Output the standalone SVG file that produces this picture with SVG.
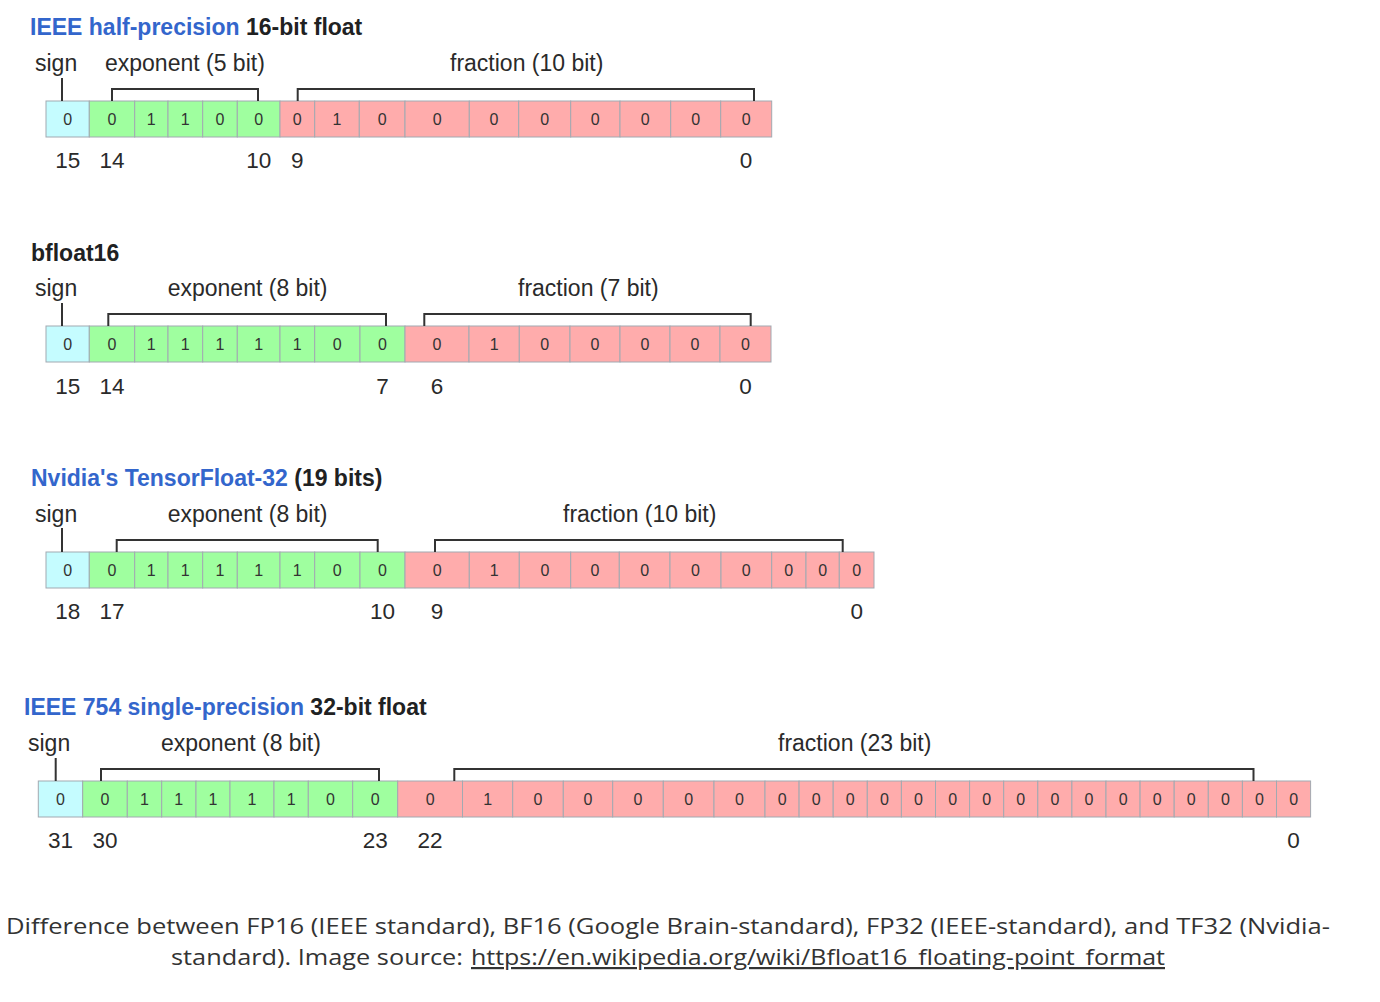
<svg xmlns="http://www.w3.org/2000/svg" width="1380" height="1002" viewBox="0 0 1380 1002">
<style>
rect.c{stroke:#a2a9b1;stroke-width:1}
.s{fill:#c5fcff}.e{fill:#9fff9f}.f{fill:#ffacac}
text{font-family:"Liberation Sans",Arial,sans-serif}
.v{font-size:16px;fill:#333;text-anchor:middle}
.lb{font-size:23px;fill:#2a2a2a}
.ix{font-size:22.5px;fill:#2a2a2a;text-anchor:middle}
.t{font-size:23px;font-weight:bold;fill:#202122}
.bl{fill:#3366cc}
.br{fill:none;stroke:#333;stroke-width:2}
.cap{font-family:"Open Sans","Liberation Sans",sans-serif;font-size:22px;fill:#333}
</style>
<rect width="1380" height="1002" fill="#fff"/>

<g id="fp16">
<text class="t" x="30" y="35"><tspan class="bl">IEEE half-precision</tspan> 16-bit float</text>
<text class="lb" x="35" y="71">sign</text>
<text class="lb" x="105" y="71">exponent (5 bit)</text>
<text class="lb" x="450" y="71">fraction (10 bit)</text>
<rect class="c s" x="46" y="101" width="43.3" height="36"/>
<rect class="c e" x="89.3" y="101" width="45.4" height="36"/>
<rect class="c e" x="134.7" y="101" width="33.3" height="36"/>
<rect class="c e" x="168" y="101" width="34.7" height="36"/>
<rect class="c e" x="202.7" y="101" width="34.6" height="36"/>
<rect class="c e" x="237.3" y="101" width="42.7" height="36"/>
<rect class="c f" x="280" y="101" width="34.7" height="36"/>
<rect class="c f" x="314.7" y="101" width="44.6" height="36"/>
<rect class="c f" x="359.3" y="101" width="45.7" height="36"/>
<rect class="c f" x="405" y="101" width="64.3" height="36"/>
<rect class="c f" x="469.3" y="101" width="49.4" height="36"/>
<rect class="c f" x="518.7" y="101" width="52" height="36"/>
<rect class="c f" x="570.7" y="101" width="49.3" height="36"/>
<rect class="c f" x="620" y="101" width="50.7" height="36"/>
<rect class="c f" x="670.7" y="101" width="50" height="36"/>
<rect class="c f" x="720.7" y="101" width="51" height="36"/>
<text class="v" y="125"><tspan x="67.7">0</tspan><tspan x="112">0</tspan><tspan x="151.3">1</tspan><tspan x="185.3">1</tspan><tspan x="220">0</tspan><tspan x="258.7">0</tspan><tspan x="297.3">0</tspan><tspan x="337">1</tspan><tspan x="382.2">0</tspan><tspan x="437.2">0</tspan><tspan x="494">0</tspan><tspan x="544.7">0</tspan><tspan x="595.3">0</tspan><tspan x="645.3">0</tspan><tspan x="695.7">0</tspan><tspan x="746.2">0</tspan></text>
<text class="ix" y="168"><tspan x="67.7">15</tspan><tspan x="112">14</tspan><tspan x="258.7">10</tspan><tspan x="297.3">9</tspan><tspan x="746">0</tspan></text>
</g>

<g id="bf16">
<text class="t" x="31" y="261">bfloat16</text>
<text class="lb" x="35" y="296">sign</text>
<text class="lb" x="167.7" y="296">exponent (8 bit)</text>
<text class="lb" x="518" y="296">fraction (7 bit)</text>
<rect class="c s" x="46" y="326" width="43.3" height="36"/>
<rect class="c e" x="89.3" y="326" width="45.4" height="36"/>
<rect class="c e" x="134.7" y="326" width="33.3" height="36"/>
<rect class="c e" x="168" y="326" width="34.7" height="36"/>
<rect class="c e" x="202.7" y="326" width="34.6" height="36"/>
<rect class="c e" x="237.3" y="326" width="42.7" height="36"/>
<rect class="c e" x="280" y="326" width="34.7" height="36"/>
<rect class="c e" x="314.7" y="326" width="45.3" height="36"/>
<rect class="c e" x="360" y="326" width="45" height="36"/>
<rect class="c f" x="405" y="326" width="64" height="36"/>
<rect class="c f" x="469" y="326" width="50.3" height="36"/>
<rect class="c f" x="519.3" y="326" width="50.7" height="36"/>
<rect class="c f" x="570" y="326" width="50" height="36"/>
<rect class="c f" x="620" y="326" width="50" height="36"/>
<rect class="c f" x="670" y="326" width="50" height="36"/>
<rect class="c f" x="720" y="326" width="51" height="36"/>
<text class="v" y="350"><tspan x="67.7">0</tspan><tspan x="112">0</tspan><tspan x="151.3">1</tspan><tspan x="185.3">1</tspan><tspan x="220">1</tspan><tspan x="258.7">1</tspan><tspan x="297.3">1</tspan><tspan x="337.3">0</tspan><tspan x="382.5">0</tspan><tspan x="437">0</tspan><tspan x="494.2">1</tspan><tspan x="544.7">0</tspan><tspan x="595">0</tspan><tspan x="645">0</tspan><tspan x="695">0</tspan><tspan x="745.5">0</tspan></text>
<text class="ix" y="394"><tspan x="67.7">15</tspan><tspan x="112">14</tspan><tspan x="382.5">7</tspan><tspan x="437">6</tspan><tspan x="745.5">0</tspan></text>
</g>

<g id="tf32">
<text class="t" x="31" y="486"><tspan class="bl">Nvidia's TensorFloat-32</tspan> (19 bits)</text>
<text class="lb" x="35" y="522">sign</text>
<text class="lb" x="167.7" y="522">exponent (8 bit)</text>
<text class="lb" x="563" y="522">fraction (10 bit)</text>
<rect class="c s" x="46" y="552" width="43.3" height="36"/>
<rect class="c e" x="89.3" y="552" width="45.4" height="36"/>
<rect class="c e" x="134.7" y="552" width="33.3" height="36"/>
<rect class="c e" x="168" y="552" width="34.7" height="36"/>
<rect class="c e" x="202.7" y="552" width="34.6" height="36"/>
<rect class="c e" x="237.3" y="552" width="42.7" height="36"/>
<rect class="c e" x="280" y="552" width="34.7" height="36"/>
<rect class="c e" x="314.7" y="552" width="45.3" height="36"/>
<rect class="c e" x="360" y="552" width="45" height="36"/>
<rect class="c f" x="405" y="552" width="64.3" height="36"/>
<rect class="c f" x="469.3" y="552" width="50" height="36"/>
<rect class="c f" x="519.3" y="552" width="51.4" height="36"/>
<rect class="c f" x="570.7" y="552" width="48.6" height="36"/>
<rect class="c f" x="619.3" y="552" width="50.7" height="36"/>
<rect class="c f" x="670" y="552" width="51" height="36"/>
<rect class="c f" x="721" y="552" width="50.7" height="36"/>
<rect class="c f" x="771.7" y="552" width="34.3" height="36"/>
<rect class="c f" x="806" y="552" width="33.3" height="36"/>
<rect class="c f" x="839.3" y="552" width="34.7" height="36"/>
<text class="v" y="576"><tspan x="67.7">0</tspan><tspan x="112">0</tspan><tspan x="151.3">1</tspan><tspan x="185.3">1</tspan><tspan x="220">1</tspan><tspan x="258.7">1</tspan><tspan x="297.3">1</tspan><tspan x="337.3">0</tspan><tspan x="382.5">0</tspan><tspan x="437.2">0</tspan><tspan x="494.3">1</tspan><tspan x="545">0</tspan><tspan x="595">0</tspan><tspan x="644.7">0</tspan><tspan x="695.5">0</tspan><tspan x="746.3">0</tspan><tspan x="788.8">0</tspan><tspan x="822.7">0</tspan><tspan x="856.7">0</tspan></text>
<text class="ix" y="619"><tspan x="67.7">18</tspan><tspan x="112">17</tspan><tspan x="382.5">10</tspan><tspan x="437">9</tspan><tspan x="856.7">0</tspan></text>
</g>

<g id="fp32">
<text class="t" x="24" y="715"><tspan class="bl">IEEE 754 single-precision</tspan> 32-bit float</text>
<text class="lb" x="28" y="751">sign</text>
<text class="lb" x="161" y="751">exponent (8 bit)</text>
<text class="lb" x="778" y="751">fraction (23 bit)</text>
<rect class="c s" x="38.3" y="781" width="44.4" height="36"/>
<rect class="c e" x="82.7" y="781" width="44.6" height="36"/>
<rect class="c e" x="127.3" y="781" width="34.4" height="36"/>
<rect class="c e" x="161.7" y="781" width="34.3" height="36"/>
<rect class="c e" x="196" y="781" width="34" height="36"/>
<rect class="c e" x="230" y="781" width="44" height="36"/>
<rect class="c e" x="274" y="781" width="34.3" height="36"/>
<rect class="c e" x="308.3" y="781" width="44.4" height="36"/>
<rect class="c e" x="352.7" y="781" width="45" height="36"/>
<rect class="c f" x="397.7" y="781" width="64.8" height="36"/>
<rect class="c f" x="462.5" y="781" width="50.2" height="36"/>
<rect class="c f" x="512.7" y="781" width="50.6" height="36"/>
<rect class="c f" x="563.3" y="781" width="49.4" height="36"/>
<rect class="c f" x="612.7" y="781" width="50.6" height="36"/>
<rect class="c f" x="663.3" y="781" width="50.7" height="36"/>
<rect class="c f" x="714" y="781" width="51" height="36"/>
<rect class="c f" x="765" y="781" width="34.1" height="36"/>
<rect class="c f" x="799.1" y="781" width="34.1" height="36"/>
<rect class="c f" x="833.2" y="781" width="34.1" height="36"/>
<rect class="c f" x="867.3" y="781" width="34.1" height="36"/>
<rect class="c f" x="901.4" y="781" width="34.1" height="36"/>
<rect class="c f" x="935.5" y="781" width="34.1" height="36"/>
<rect class="c f" x="969.6" y="781" width="34.1" height="36"/>
<rect class="c f" x="1003.7" y="781" width="34.1" height="36"/>
<rect class="c f" x="1037.8" y="781" width="34.1" height="36"/>
<rect class="c f" x="1071.9" y="781" width="34.1" height="36"/>
<rect class="c f" x="1106" y="781" width="34.1" height="36"/>
<rect class="c f" x="1140.1" y="781" width="34.1" height="36"/>
<rect class="c f" x="1174.2" y="781" width="34.1" height="36"/>
<rect class="c f" x="1208.3" y="781" width="34.1" height="36"/>
<rect class="c f" x="1242.4" y="781" width="34.1" height="36"/>
<rect class="c f" x="1276.5" y="781" width="34.1" height="36"/>
<text class="v" y="805"><tspan x="60.5">0</tspan><tspan x="105">0</tspan><tspan x="144.5">1</tspan><tspan x="178.8">1</tspan><tspan x="213">1</tspan><tspan x="252">1</tspan><tspan x="291.2">1</tspan><tspan x="330.5">0</tspan><tspan x="375.2">0</tspan><tspan x="430.1">0</tspan><tspan x="487.6">1</tspan><tspan x="538">0</tspan><tspan x="588">0</tspan><tspan x="638">0</tspan><tspan x="688.7">0</tspan><tspan x="739.5">0</tspan><tspan x="782.1">0</tspan><tspan x="816.2">0</tspan><tspan x="850.3">0</tspan><tspan x="884.4">0</tspan><tspan x="918.5">0</tspan><tspan x="952.6">0</tspan><tspan x="986.7">0</tspan><tspan x="1020.8">0</tspan><tspan x="1054.9">0</tspan><tspan x="1089">0</tspan><tspan x="1123.1">0</tspan><tspan x="1157.2">0</tspan><tspan x="1191.3">0</tspan><tspan x="1225.4">0</tspan><tspan x="1259.5">0</tspan><tspan x="1293.6">0</tspan></text>
<text class="ix" y="848"><tspan x="60.5">31</tspan><tspan x="105">30</tspan><tspan x="375.2">23</tspan><tspan x="430">22</tspan><tspan x="1293.6">0</tspan></text>
</g>

<g id="connectors">
<path class="br" d="M62,78V101M112,101V89H258V101M297.7,101V89H754V101"/>
<path class="br" d="M62,303V326M108.3,326V314H386V326M424.3,326V314H750.7V326"/>
<path class="br" d="M62,528V552M116.7,552V540H377.7V552M435,552V540H842.7V552"/>
<path class="br" d="M55.7,758V781M101,781V769H379V781M454.3,781V769H1253.5V781"/>
</g>

<g id="caption">
<text class="cap" x="6" y="934" textLength="1324" lengthAdjust="spacingAndGlyphs">Difference between FP16 (IEEE standard), BF16 (Google Brain-standard), FP32 (IEEE-standard), and TF32 (Nvidia-</text>
<text class="cap" x="171" y="965" textLength="292" lengthAdjust="spacingAndGlyphs">standard). Image source:</text>
<text class="cap" x="471" y="965" textLength="694" lengthAdjust="spacingAndGlyphs" text-decoration="underline">https://en.wikipedia.org/wiki/Bfloat16_floating-point_format</text>
</g>
</svg>
